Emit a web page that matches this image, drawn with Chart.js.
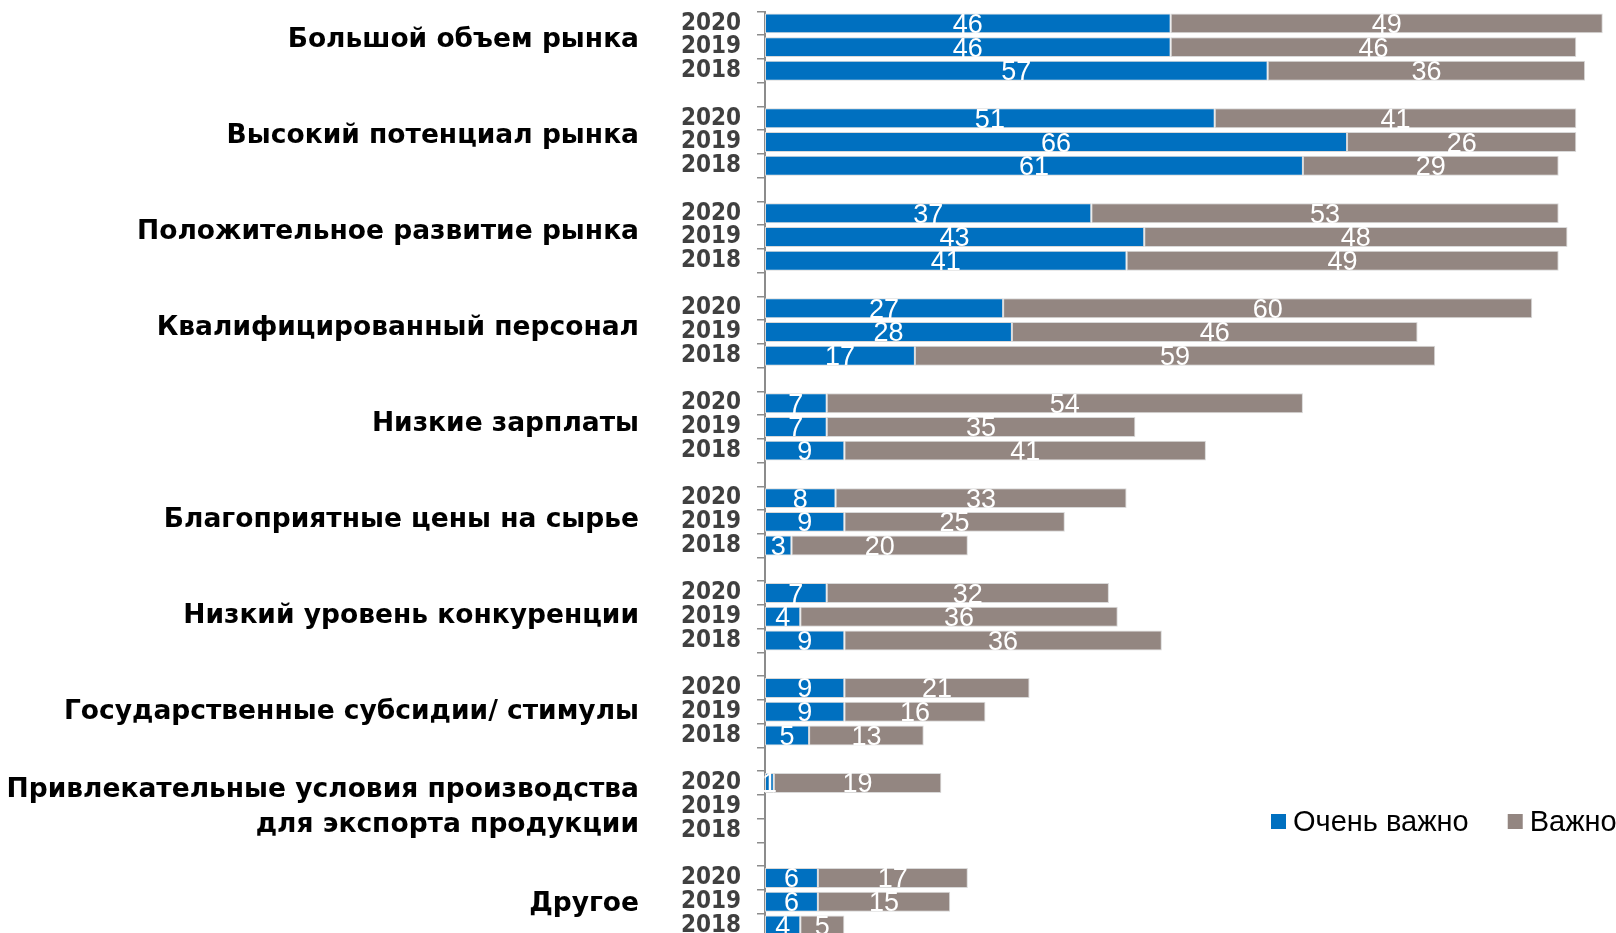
<!DOCTYPE html>
<html>
<head>
<meta charset="utf-8">
<script src="https://cdn.jsdelivr.net/npm/chart.js@4.4.1/dist/chart.umd.min.js"></script>
<style>
  html, body { margin: 0; padding: 0; background: #ffffff; overflow: hidden; }
  #wrap { width: 1616px; height: 961px; position: relative; }
  canvas { display: block; }
</style>
</head>
<body>
<div id="wrap"><canvas id="c"></canvas></div>
<script>
// ---- Data ----
const groups = [
  ["Большой объем рынка"],
  ["Высокий потенциал рынка"],
  ["Положительное развитие рынка"],
  ["Квалифицированный персонал"],
  ["Низкие зарплаты"],
  ["Благоприятные цены на сырье"],
  ["Низкий уровень конкуренции"],
  ["Государственные субсидии/ стимулы"],
  ["Привлекательные условия производства", "для экспорта продукции"],
  ["Другое"]
];
const years = ["2020", "2019", "2018"];
const seriesNames = ["Очень важно", "Важно"];
// values per group, in year order 2020, 2019, 2018
const veryImportant = [
  [46, 46, 57],
  [51, 66, 61],
  [37, 43, 41],
  [27, 28, 17],
  [7, 7, 9],
  [8, 9, 3],
  [7, 4, 9],
  [9, 9, 5],
  [1, null, null],
  [6, 6, 4]
];
const important = [
  [49, 46, 36],
  [41, 26, 29],
  [53, 48, 49],
  [60, 46, 59],
  [54, 35, 41],
  [33, 25, 20],
  [32, 36, 36],
  [21, 16, 13],
  [19, null, null],
  [17, 15, 5]
];

// ---- Build slot arrays (3 years + an empty spacer slot per group) ----
const slotLabels = [];
const slotVery = [];
const slotImp = [];
groups.forEach((g, gi) => {
  years.forEach((y, yi) => {
    slotLabels.push(y);
    slotVery.push(veryImportant[gi][yi]);
    slotImp.push(important[gi][yi]);
  });
  slotLabels.push("");
  slotVery.push(null);
  slotImp.push(null);
});

const BLUE = "#0070C0";
const GRAY = "#938681";

const valueLabels = {
  id: "valueLabels",
  afterDatasetsDraw(chart) {
    const ctx = chart.ctx;
    ctx.save();
    ctx.font = "27px 'Liberation Sans', Arial, sans-serif";
    ctx.fillStyle = "#ffffff";
    ctx.textAlign = "center";
    ctx.textBaseline = "middle";
    chart.data.datasets.forEach((ds, di) => {
      const meta = chart.getDatasetMeta(di);
      meta.data.forEach((el, i) => {
        const v = ds.data[i];
        if (v === null || v === undefined) return;
        const cx = (el.x + el.base) / 2;
        ctx.fillText(String(v), cx, el.y + 2);
      });
    });
    ctx.restore();
  }
};

const groupLabels = {
  id: "groupLabels",
  afterDraw(chart) {
    const ctx = chart.ctx;
    const yScale = chart.scales.y;
    ctx.save();
    ctx.font = "bold 26.5px 'DejaVu Sans', Verdana, sans-serif";
    ctx.fillStyle = "#000000";
    ctx.textAlign = "right";
    ctx.textBaseline = "middle";
    const lineH = 35;
    groups.forEach((lines, k) => {
      const yc = yScale.getPixelForValue(4 * k + 1) - 8 + k;
      const n = lines.length;
      lines.forEach((t, li) => {
        const y = yc + (li - (n - 1) / 2) * lineH;
        ctx.fillText(t, 639, y + 1);
      });
    });
    ctx.restore();
  }
};

const customLegend = {
  id: "customLegend",
  afterDraw(chart) {
    const ctx = chart.ctx;
    ctx.save();
    ctx.font = "29px 'Liberation Sans', Arial, sans-serif";
    ctx.textBaseline = "middle";
    ctx.textAlign = "left";
    let x = 1271;
    const yc = 822;
    chart.data.datasets.forEach((ds) => {
      ctx.fillStyle = ds.backgroundColor;
      ctx.fillRect(x, yc - 8, 15, 15);
      ctx.fillStyle = "#000000";
      ctx.fillText(ds.label, x + 22, yc + 1);
      x = x + 22 + ctx.measureText(ds.label).width + 39;
    });
    ctx.restore();
  }
};

new Chart(document.getElementById("c"), {
  type: "bar",
  data: {
    labels: slotLabels,
    datasets: [
      {
        label: seriesNames[0],
        data: slotVery,
        backgroundColor: BLUE,
        borderColor: "#d9d9d9",
        borderWidth: 1,
        borderSkipped: false,
        categoryPercentage: 1.0,
        barPercentage: 0.84
      },
      {
        label: seriesNames[1],
        data: slotImp,
        backgroundColor: GRAY,
        borderColor: "#d9d9d9",
        borderWidth: 1,
        borderSkipped: false,
        categoryPercentage: 1.0,
        barPercentage: 0.84
      }
    ]
  },
  options: {
    indexAxis: "y",
    responsive: true,
    maintainAspectRatio: false,
    animation: false,
    devicePixelRatio: 1,
    layout: { padding: { top: 11.5, right: 0, bottom: 0, left: 0 } },
    plugins: {
      legend: { display: false },
      tooltip: { enabled: false }
    },
    scales: {
      x: {
        stacked: true,
        min: 0,
        max: 96.5,
        display: false
      },
      y: {
        stacked: true,
        afterFit(scale) {
          scale.width = 765;
          scale.paddingTop = 0;
          scale.paddingBottom = 0;
        },
        grid: {
          display: true,
          drawOnChartArea: false,
          drawTicks: true,
          tickLength: 8,
          color: "#8c8c8c",
          lineWidth: 1.5
        },
        border: { display: true, color: "#8c8c8c", width: 2 },
        ticks: {
          autoSkip: false,
          padding: 16,
          color: "#404040",
          font: { family: "'DejaVu Sans Condensed', 'DejaVu Sans', sans-serif", weight: "bold", size: 24 }
        }
      }
    }
  },
  plugins: [valueLabels, groupLabels, customLegend]
});
</script>
</body>
</html>
